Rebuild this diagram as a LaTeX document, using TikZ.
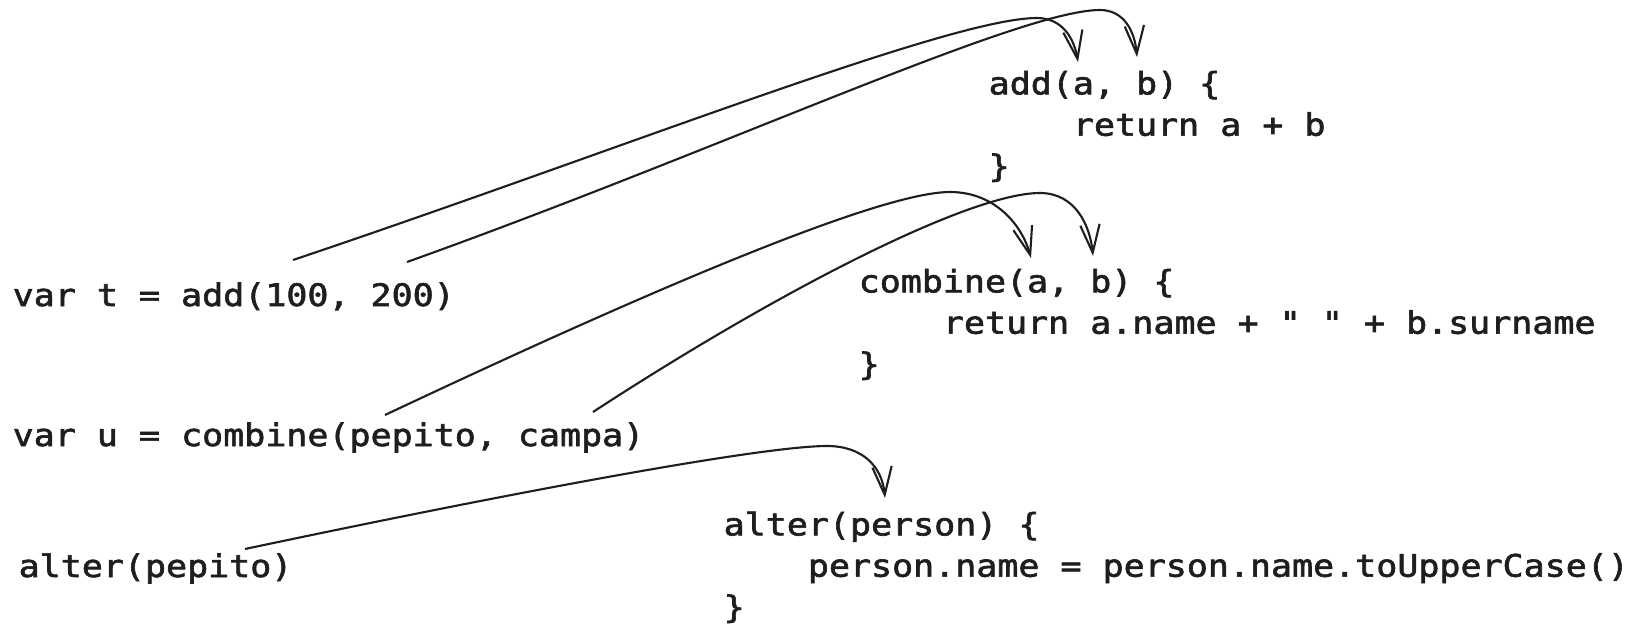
\documentclass[tikz,border=0pt]{standalone}
\usepackage{fontspec}
\newfontfamily\codefont[FakeStretch=1.13,FakeBold=2]{DejaVu Sans Mono}
\definecolor{inkdark}{RGB}{30,30,30}
\usetikzlibrary{arrows.meta,positioning}

\begin{document}
\frenchspacing
\begin{tikzpicture}[x=0.01cm,y=-0.01cm,
  code/.style={anchor=base west,inner sep=0pt,align=left,text=inkdark,
    font=\codefont\fontsize{8.8pt}{11.75pt}\selectfont},
  link/.style={draw=inkdark,line width=0.6pt,-{Straight Barb[length=8pt,width=5.5pt]}}
]
  \useasboundingbox (0,0) rectangle (1638,639);
  % calls on the left
  \node[code] (callt) at (12,306) {var t = add(100, 200)};
  \node[code] (callu) at (12,446) {var u = combine(pepito, campa)};
  \node[code] (callalter) at (18,577) {alter(pepito)};
  % function bodies (anchored on their last line)
  \node[code] (fadd) at (988,177) {add(a, b) \{\\\hphantom{0000}return a + b\\\}};
  \node[code] (fcombine) at (858,375) {combine(a, b) \{\\\hphantom{0000}return a.name + " " + b.surname\\\}};
  \node[code] (falter) at (723,618) {alter(person) \{\\\hphantom{0000}person.name = person.name.toUpperCase()\\\}};
  % ends of the arrows
  \coordinate (hundred) at (293,260);
  \coordinate (twohundred) at (407,262);
  \coordinate (pepito) at (385,415);
  \coordinate (campa) at (593,412);
  \coordinate (pepitoalt) at (245,549);
  \coordinate (adda) at (1078,62);
  \coordinate (addb) at (1137,57);
  \coordinate (comba) at (1031,258);
  \coordinate (combb) at (1093,256);
  \coordinate (person) at (885,498);
  % arrows
  \draw[link] (hundred) .. controls (620,150) and (950,18) .. (1037,18)
    .. controls (1062,18) and (1074,38) .. (adda);
  \draw[link] (twohundred) .. controls (720,150) and (1020,10) .. (1100,10)
    .. controls (1125,10) and (1135,33) .. (addb);
  \draw[link] (pepito) .. controls (650,290) and (880,192) .. (950,192)
    .. controls (995,192) and (1022,225) .. (comba);
  \draw[link] (campa) .. controls (780,290) and (970,193) .. (1040,193)
    .. controls (1075,193) and (1090,225) .. (combb);
  \draw[link] (pepitoalt) .. controls (500,495) and (760,446) .. (827,446)
    .. controls (862,446) and (882,466) .. (person);
\end{tikzpicture}
\end{document}
